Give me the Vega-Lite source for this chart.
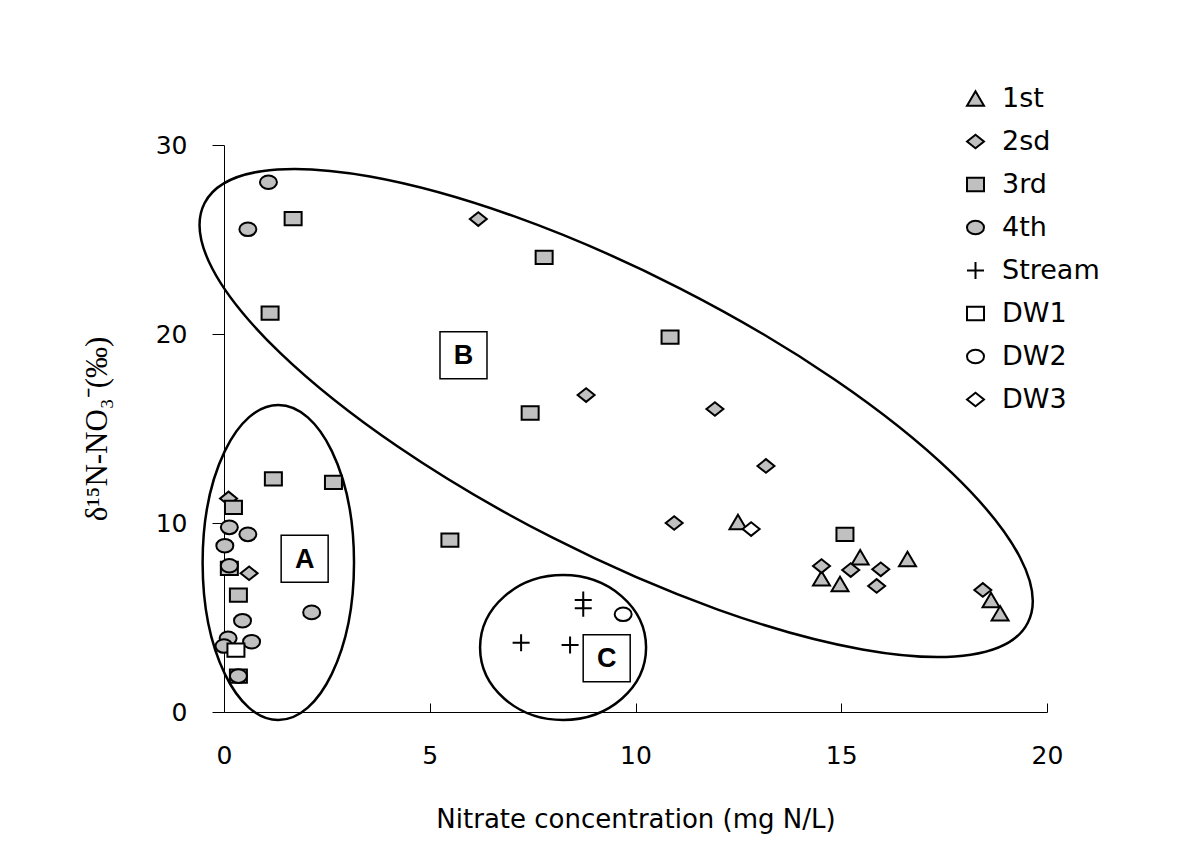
{
  "$schema": "https://vega.github.io/schema/vega-lite/v6.json",
  "autosize": {"type": "none"},
  "width": 823,
  "height": 567,
  "padding": {"left": 224, "top": 145, "right": 150, "bottom": 141},
  "background": "white",
  "config": {
    "view": {"stroke": null},
    "axis": {"grid": false, "domainColor": "black", "domainWidth": 1, "tickColor": "black", "tickWidth": 1, "labelColor": "black", "titleColor": "black", "labelFont": "DejaVu Sans", "labelFontSize": 25, "titleFont": "DejaVu Sans", "titleFontWeight": "normal"},
    "legend": {"symbolStrokeWidth": 2, "symbolOpacity": 1, "labelFont": "DejaVu Sans", "labelFontSize": 27, "labelColor": "black"}
  },
  "datasets": {
    "groups": [
      {"group": "A", "x": 1.32, "y": 7.91},
      {"group": "B", "x": 9.53, "y": 15.82},
      {"group": "C", "x": 8.24, "y": 3.41}
    ],
    "labels": [
      {"group": "A", "x": 1.96, "y": 8.11},
      {"group": "B", "x": 5.82, "y": 18.88},
      {"group": "C", "x": 9.30, "y": 2.85}
    ],
    "samples": [
      {"series": "1st", "x": 12.49, "y": 10.05},
      {"series": "1st", "x": 15.46, "y": 8.19},
      {"series": "1st", "x": 16.61, "y": 8.10},
      {"series": "1st", "x": 14.52, "y": 7.07},
      {"series": "1st", "x": 14.97, "y": 6.77},
      {"series": "1st", "x": 18.64, "y": 5.93},
      {"series": "1st", "x": 18.86, "y": 5.22},
      {"series": "2sd", "x": 6.18, "y": 26.08},
      {"series": "2sd", "x": 8.80, "y": 16.77},
      {"series": "2sd", "x": 11.93, "y": 16.03},
      {"series": "2sd", "x": 13.17, "y": 13.02},
      {"series": "2sd", "x": 10.94, "y": 10.0},
      {"series": "2sd", "x": 14.52, "y": 7.72},
      {"series": "2sd", "x": 15.23, "y": 7.51},
      {"series": "2sd", "x": 15.96, "y": 7.55},
      {"series": "2sd", "x": 15.86, "y": 6.67},
      {"series": "2sd", "x": 18.44, "y": 6.46},
      {"series": "2sd", "x": 0.11, "y": 11.3},
      {"series": "2sd", "x": 0.61, "y": 7.34},
      {"series": "3rd", "x": 1.68, "y": 26.1},
      {"series": "3rd", "x": 7.78, "y": 24.06},
      {"series": "3rd", "x": 1.12, "y": 21.1},
      {"series": "3rd", "x": 10.84, "y": 19.84},
      {"series": "3rd", "x": 7.44, "y": 15.82},
      {"series": "3rd", "x": 15.09, "y": 9.40},
      {"series": "3rd", "x": 5.49, "y": 9.10},
      {"series": "3rd", "x": 1.20, "y": 12.33},
      {"series": "3rd", "x": 2.66, "y": 12.15},
      {"series": "3rd", "x": 0.23, "y": 10.83},
      {"series": "3rd", "x": 0.13, "y": 7.60},
      {"series": "3rd", "x": 0.35, "y": 6.19},
      {"series": "3rd", "x": 0.35, "y": 1.90},
      {"series": "4th", "x": 1.08, "y": 28.03},
      {"series": "4th", "x": 0.58, "y": 25.54},
      {"series": "4th", "x": 0.13, "y": 9.77},
      {"series": "4th", "x": 0.58, "y": 9.40},
      {"series": "4th", "x": 0.02, "y": 8.80},
      {"series": "4th", "x": 0.13, "y": 7.74},
      {"series": "4th", "x": 0.45, "y": 4.83},
      {"series": "4th", "x": 0.10, "y": 3.90},
      {"series": "4th", "x": 0.67, "y": 3.72},
      {"series": "4th", "x": 0.0, "y": 3.49},
      {"series": "4th", "x": 0.35, "y": 1.90},
      {"series": "4th", "x": 2.13, "y": 5.27},
      {"series": "Stream", "x": 8.73, "y": 5.93},
      {"series": "Stream", "x": 8.73, "y": 5.49},
      {"series": "Stream", "x": 7.22, "y": 3.67},
      {"series": "Stream", "x": 8.41, "y": 3.54},
      {"series": "DW1", "x": 0.29, "y": 3.28},
      {"series": "DW2", "x": 9.70, "y": 5.17},
      {"series": "DW3", "x": 12.81, "y": 9.68}
    ]
  },
  "encoding": {
    "x": {"field": "x", "type": "quantitative", "scale": {"domain": [0, 20], "nice": false, "zero": false},
      "axis": {"title": "Nitrate concentration (mg N/L)", "values": [0, 5, 10, 15, 20], "tickSize": -9, "labelPadding": 40, "titleFontSize": 26, "titlePadding": 38, "labelFlush": false}},
    "y": {"field": "y", "type": "quantitative", "scale": {"domain": [0, 30], "nice": false, "zero": false},
      "axis": {"title": "δ¹⁵N-NO₃⁻(‰)", "values": [0, 10, 20, 30], "tickSize": 12, "labelPadding": 25, "titleFont": "Liberation Serif", "titleFontSize": 31, "titlePadding": 42, "labelFlush": false}}
  },
  "layer": [
    {
      "data": {"name": "groups"},
      "transform": [{"filter": "datum.group === 'A'"}],
      "mark": {"type": "point", "shape": "M1,0C1,1.149 0.5523,2.08 0,2.08C-0.5523,2.08 -1,1.149 -1,0C-1,-1.149 -0.5523,-2.08 0,-2.08C0.5523,-2.08 1,-1.149 1,0Z", "size": 22922, "filled": false, "stroke": "black", "strokeWidth": 2.5, "opacity": 1}
    },
    {
      "data": {"name": "groups"},
      "transform": [{"filter": "datum.group === 'B'"}],
      "mark": {"type": "point", "shape": "M1,0C1,0.1673 0.5523,0.303 0,0.303C-0.5523,0.303 -1,0.1673 -1,0C-1,-0.1673 -0.5523,-0.303 0,-0.303C0.5523,-0.303 1,-0.1673 1,0Z", "size": 853776, "angle": 27, "filled": false, "stroke": "black", "strokeWidth": 2.5, "opacity": 1}
    },
    {
      "data": {"name": "groups"},
      "transform": [{"filter": "datum.group === 'C'"}],
      "mark": {"type": "point", "shape": "M1,0C1,0.482 0.5523,0.873 0,0.873C-0.5523,0.873 -1,0.482 -1,0C-1,-0.482 -0.5523,-0.873 0,-0.873C0.5523,-0.873 1,-0.482 1,0Z", "size": 27556, "filled": false, "stroke": "black", "strokeWidth": 2.5, "opacity": 1}
    },
    {
      "data": {"name": "samples"},
      "mark": {"type": "point", "filled": true, "strokeWidth": 2, "opacity": 1},
      "encoding": {
        "shape": {"field": "series", "type": "nominal",
          "scale": {"domain": ["1st", "2sd", "3rd", "4th", "Stream", "DW1", "DW2", "DW3"],
            "range": [
              "M0,-0.85L1,0.85L-1,0.85Z",
              "M-1,0L0,-0.8L1,0L0,0.8Z",
              "M-1,-0.78L1,-0.78L1,0.78L-1,0.78Z",
              "M1,0C1,0.4418 0.5523,0.8 0,0.8C-0.5523,0.8 -1,0.4418 -1,0C-1,-0.4418 -0.5523,-0.8 0,-0.8C0.5523,-0.8 1,-0.4418 1,0Z",
              "M-1,0L1,0M0,-1L0,1",
              "M-1,-0.78L1,-0.78L1,0.78L-1,0.78Z",
              "M1,0C1,0.4418 0.5523,0.8 0,0.8C-0.5523,0.8 -1,0.4418 -1,0C-1,-0.4418 -0.5523,-0.8 0,-0.8C0.5523,-0.8 1,-0.4418 1,0Z",
              "M-1,0L0,-0.8L1,0L0,0.8Z"
            ]},
          "legend": {"title": null, "orient": "none", "legendX": 738, "legendY": -60, "rowPadding": 15, "labelOffset": 13}},
        "fill": {"field": "series", "type": "nominal",
          "scale": {"domain": ["1st", "2sd", "3rd", "4th", "Stream", "DW1", "DW2", "DW3"],
            "range": ["#c0c0c0", "#c0c0c0", "#c0c0c0", "#c0c0c0", "black", "white", "white", "white"]},
          "legend": {"title": null, "orient": "none", "legendX": 738, "legendY": -60, "rowPadding": 15, "labelOffset": 13}},
        "stroke": {"field": "series", "type": "nominal",
          "scale": {"domain": ["1st", "2sd", "3rd", "4th", "Stream", "DW1", "DW2", "DW3"],
            "range": ["black", "black", "black", "black", "black", "black", "black", "black"]},
          "legend": {"title": null, "orient": "none", "legendX": 738, "legendY": -60, "rowPadding": 15, "labelOffset": 13}},
        "size": {"field": "series", "type": "nominal",
          "scale": {"domain": ["1st", "2sd", "3rd", "4th", "Stream", "DW1", "DW2", "DW3"],
            "range": [289, 289, 289, 289, 324, 400, 400, 400]},
          "legend": {"title": null, "orient": "none", "legendX": 738, "legendY": -60, "rowPadding": 15, "labelOffset": 13}}
      }
    },
    {
      "data": {"name": "labels"},
      "mark": {"type": "point", "shape": "square", "size": 2209, "filled": true, "fill": "white", "stroke": "black", "strokeWidth": 1.5, "opacity": 1}
    },
    {
      "data": {"name": "labels"},
      "mark": {"type": "text", "font": "Liberation Sans", "fontWeight": "bold", "fontSize": 27, "align": "center", "baseline": "middle", "color": "black", "dy": 1},
      "encoding": {"text": {"field": "group"}}
    }
  ]
}
